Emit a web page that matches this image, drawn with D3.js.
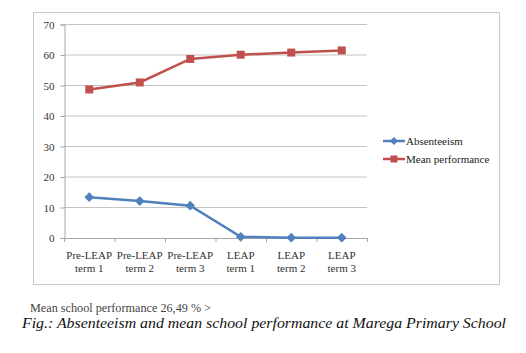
<!DOCTYPE html>
<html>
<head>
<meta charset="utf-8">
<script src="https://cdn.jsdelivr.net/npm/d3@7"></script>
<style>
  body { margin: 0; background: #fff; }
  svg { display: block; }
</style>
</head>
<body>
<svg id="chart" width="526" height="353"></svg>
<script>
const categories = [
  ["Pre-LEAP", "term 1"],
  ["Pre-LEAP", "term 2"],
  ["Pre-LEAP", "term 3"],
  ["LEAP", "term 1"],
  ["LEAP", "term 2"],
  ["LEAP", "term 3"],
];
const absenteeism = [13.4, 12.1, 10.6, 0.4, 0.1, 0.1];
const meanPerformance = [48.7, 51.0, 58.7, 60.1, 60.8, 61.5];
const yTicks = [0, 10, 20, 30, 40, 50, 60, 70];

const serif = "Liberation Serif";
const blue = "#4f81bd", red = "#c0504d";
const svg = d3.select("#chart");

// outer chart frame
svg.append("rect")
  .attr("x", 33.5).attr("y", 12.5)
  .attr("width", 466).attr("height", 272)
  .attr("fill", "none").attr("stroke", "#c8c8c8");

const x = d3.scaleBand().domain(d3.range(categories.length)).range([64, 367]);
const y = d3.scaleLinear().domain([0, 70]).range([238, 24.5]);

// gridlines
svg.append("g").selectAll("line").data(yTicks.slice(1)).enter()
  .append("line")
  .attr("x1", 64).attr("x2", 367)
  .attr("y1", d => y(d)).attr("y2", d => y(d))
  .attr("stroke", "#c4c4c4");

// y axis
const yAxis = svg.append("g").attr("transform", "translate(64.5,0)")
  .call(d3.axisLeft(y).tickValues(yTicks).tickSize(4).tickPadding(6));
yAxis.attr("font-family", serif).attr("font-size", 11);
yAxis.select(".domain").attr("stroke", "#a6a6a6");
yAxis.selectAll(".tick line").attr("stroke", "#a6a6a6");
yAxis.selectAll(".tick text").attr("fill", "#333");

// x axis
svg.append("line").attr("x1", 64).attr("x2", 367)
  .attr("y1", y(0) + 0.5).attr("y2", y(0) + 0.5).attr("stroke", "#a6a6a6");
svg.append("g").selectAll("line").data(d3.range(categories.length + 1)).enter()
  .append("line")
  .attr("x1", d => 64.5 + d * x.step()).attr("x2", d => 64.5 + d * x.step())
  .attr("y1", y(0)).attr("y2", y(0) + 4)
  .attr("stroke", "#a6a6a6");

const xLabels = svg.append("g").selectAll("text").data(categories).enter()
  .append("text")
  .attr("text-anchor", "middle")
  .attr("font-family", serif)
  .attr("font-size", 11)
  .attr("fill", "#333");
xLabels.each(function (d, i) {
  const t = d3.select(this);
  d.forEach((line, j) => {
    t.append("tspan")
      .attr("x", x(i) + x.bandwidth() / 2)
      .attr("y", 259 + j * 12.5)
      .text(line);
  });
});

const cx = i => x(i) + x.bandwidth() / 2;
const line = d3.line().x((d, i) => cx(i)).y(d => y(d));

// absenteeism series
svg.append("path").datum(absenteeism)
  .attr("d", line).attr("fill", "none")
  .attr("stroke", blue).attr("stroke-width", 2.5);
svg.append("g").selectAll("path").data(absenteeism).enter()
  .append("path")
  .attr("d", d3.symbol(d3.symbolDiamond2, 60))
  .attr("transform", (d, i) => `translate(${cx(i)},${y(d)})`)
  .attr("fill", blue);

// mean performance series
svg.append("path").datum(meanPerformance)
  .attr("d", line).attr("fill", "none")
  .attr("stroke", red).attr("stroke-width", 2.5);
svg.append("g").selectAll("rect").data(meanPerformance).enter()
  .append("rect")
  .attr("x", (d, i) => cx(i) - 4).attr("y", d => y(d) - 4)
  .attr("width", 8).attr("height", 8)
  .attr("fill", red);

// legend
const legend = svg.append("g");
const legendItems = [
  { name: "Absenteeism", color: blue, shape: "diamond" },
  { name: "Mean performance", color: red, shape: "square" },
];
legendItems.forEach((item, i) => {
  const ly = 141 + i * 18;
  legend.append("line").attr("x1", 383).attr("x2", 405)
    .attr("y1", ly).attr("y2", ly)
    .attr("stroke", item.color).attr("stroke-width", 2.5);
  if (item.shape === "diamond") {
    legend.append("path").attr("d", d3.symbol(d3.symbolDiamond2, 40))
      .attr("transform", `translate(394,${ly})`).attr("fill", item.color);
  } else {
    legend.append("rect").attr("x", 390.5).attr("y", ly - 3.5)
      .attr("width", 7).attr("height", 7).attr("fill", item.color);
  }
  legend.append("text").attr("x", 406).attr("y", ly + 4)
    .attr("font-family", serif)
    .attr("font-size", 11).attr("fill", "#222").text(item.name);
});

// notes under the chart
svg.append("text").attr("x", 30).attr("y", 312)
  .attr("font-family", serif)
  .attr("font-size", 12.5).attr("fill", "#444")
  .attr("textLength", 181).attr("lengthAdjust", "spacingAndGlyphs")
  .text("Mean school performance 26,49 % >");
svg.append("text").attr("x", 22).attr("y", 328)
  .attr("font-family", serif)
  .attr("font-size", 15).attr("font-style", "italic").attr("fill", "#111")
  .attr("textLength", 484).attr("lengthAdjust", "spacingAndGlyphs")
  .text("Fig.: Absenteeism and mean school performance at Marega Primary School");
</script>
</body>
</html>
